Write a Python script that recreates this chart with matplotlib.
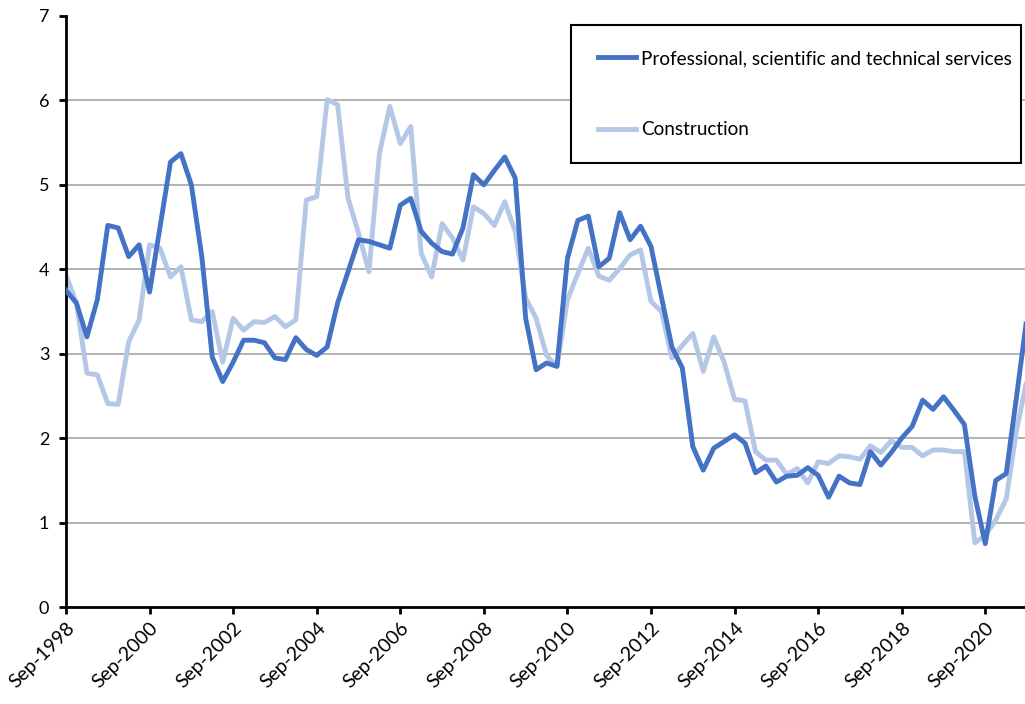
import matplotlib
matplotlib.use("Agg")
import matplotlib.pyplot as plt
import matplotlib.transforms as mtransforms
from matplotlib.patches import Rectangle
import numpy as np

# quarterly series, Sep-1998 onwards
professional = [3.75, 3.6, 3.2, 3.64, 4.52, 4.49, 4.15, 4.29, 3.73, 4.5,
                5.27, 5.37, 5.0, 4.15, 2.96, 2.67, 2.9, 3.16, 3.16, 3.13,
                2.95, 2.93, 3.19, 3.05, 2.98, 3.08, 3.6, 3.97, 4.35, 4.33,
                4.29, 4.25, 4.76, 4.84, 4.45, 4.31, 4.21, 4.18, 4.49, 5.12,
                5.0, 5.17, 5.33, 5.08, 3.42, 2.81, 2.89, 2.85, 4.13, 4.58,
                4.63, 4.03, 4.13, 4.67, 4.35, 4.51, 4.27, 3.67, 3.08, 2.83,
                1.9, 1.62, 1.88, 1.96, 2.04, 1.94, 1.59, 1.67, 1.48, 1.55,
                1.56, 1.65, 1.56, 1.3, 1.55, 1.47, 1.45, 1.84, 1.68, 1.83,
                2.0, 2.14, 2.45, 2.34, 2.49, 2.33, 2.16, 1.31, 0.75, 1.5,
                1.58, 2.5, 3.45]
construction = [3.93, 3.6, 2.77, 2.75, 2.41, 2.4, 3.14, 3.4, 4.29, 4.25,
                3.91, 4.03, 3.4, 3.38, 3.5, 2.9, 3.42, 3.28, 3.38, 3.37,
                3.44, 3.32, 3.4, 4.82, 4.86, 6.01, 5.95, 4.84, 4.43, 3.97,
                5.37, 5.93, 5.49, 5.69, 4.19, 3.91, 4.54, 4.37, 4.11, 4.74,
                4.66, 4.52, 4.8, 4.45, 3.66, 3.42, 2.98, 2.85, 3.64, 3.95,
                4.25, 3.92, 3.87, 4.01, 4.17, 4.23, 3.62, 3.5, 2.95, 3.1,
                3.24, 2.79, 3.2, 2.9, 2.46, 2.44, 1.84, 1.74, 1.74, 1.57,
                1.64, 1.47, 1.72, 1.7, 1.79, 1.78, 1.75, 1.91, 1.83, 1.97,
                1.89, 1.89, 1.79, 1.86, 1.86, 1.84, 1.84, 0.76, 0.85, 1.03,
                1.28, 2.1, 2.7]
tick_labels = ["Sep-1998", "Sep-2000", "Sep-2002", "Sep-2004", "Sep-2006",
               "Sep-2008", "Sep-2010", "Sep-2012", "Sep-2014", "Sep-2016",
               "Sep-2018", "Sep-2020"]

plt.rcParams['font.family'] = ['Lato', 'DejaVu Sans']

fig = plt.figure(figsize=(10.25, 7.04), dpi=100)
ax = fig.add_axes([66/1025, 1-607/704, 1-66/1025, (607-16)/704])

x = np.arange(len(professional))
ax.plot(x, professional, color='#4472C4', lw=3.5, solid_joinstyle='round',
        label='Professional, scientific and technical services', zorder=3)
ax.plot(x, construction, color='#B4C7E7', lw=3.5, solid_joinstyle='round',
        label='Construction', zorder=2)

ax.set_xlim(0, 91.8)
ax.set_ylim(0, 7)
ax.set_xticks(np.arange(0, 8*len(tick_labels), 8))
ax.set_xticklabels(tick_labels, rotation=45, ha='right', va='top',
                   rotation_mode='anchor', fontsize=14)
shift = mtransforms.ScaledTranslation(6/100, -3/100, fig.dpi_scale_trans)
for lab in ax.get_xticklabels():
    lab.set_transform(lab.get_transform() + shift)
ax.set_yticks(range(8))
ax.tick_params(axis='y', labelsize=13, length=5, width=2, pad=7)
ax.tick_params(axis='x', length=5, width=2, pad=4)

ax.grid(axis='y', color='#A6A6A6', lw=1.2)
ax.yaxis.get_gridlines()[-1].set_visible(False)
ax.set_axisbelow(True)

for s in ['top', 'right']:
    ax.spines[s].set_visible(False)
for s in ['left', 'bottom']:
    ax.spines[s].set_linewidth(2)

# legend box drawn separately so the entries can sit where they do in the original
ax.add_patch(Rectangle((571/1025, 1-163/704), 450/1025, 138/704,
                       transform=fig.transFigure, facecolor='white',
                       edgecolor='black', lw=1.5, zorder=4, clip_on=False))
leg = ax.legend(loc='upper left', bbox_to_anchor=(598/1025, 1-50/704),
                bbox_transform=fig.transFigure, fontsize=13.6, frameon=False,
                handlelength=2.0, handletextpad=0.3, labelspacing=2.87,
                borderpad=0, borderaxespad=0)
leg.set_zorder(5)

fig.savefig('out.png', dpi=100)
